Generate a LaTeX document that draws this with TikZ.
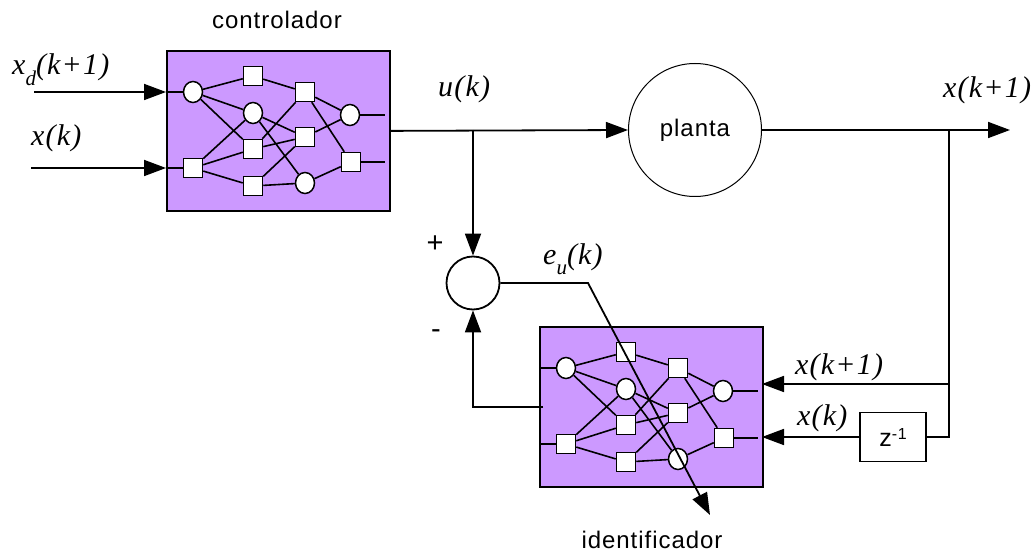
\documentclass[tikz,border=0pt]{standalone}
\usepackage{fontspec}
\setmainfont{Liberation Serif}
\setsansfont{Liberation Sans}
\newfontfamily\lblsans[LetterSpace=4]{Liberation Sans}
\newfontfamily\lblser[LetterSpace=4]{Liberation Serif}
\usetikzlibrary{arrows.meta,shapes.geometric}
\definecolor{netfill}{HTML}{CC99FF}
\tikzset{
 netbox/.style={draw, line width=1.8pt, fill=netfill, minimum width=223pt, minimum height=160pt, anchor=north west, inner sep=0pt},
 neur/.style={ellipse, draw, fill=white, line width=1.5pt, minimum width=19pt, minimum height=21pt, inner sep=0pt},
 sq/.style={rectangle, draw, fill=white, line width=1.5pt, minimum size=19pt, inner sep=0pt},
 wire/.style={line width=1.6pt},
 conn/.style={line width=1.8pt},
 arr/.style={conn, -{Triangle[length=22pt,width=16pt]}},
 ital/.style={font=\lblser\itshape\fontsize{30}{30}\selectfont, inner sep=0pt},
 sanslbl/.style={font=\lblsans\fontsize{24}{24}\selectfont, inner sep=0pt},
}
\newcommand\mknet[3]{%
 \node[netbox] (#1box) at (#2,#3) {};
 \begin{scope}[shift={(#2,#3)}]
  \node[neur] (#1i1) at (27,42) {};
  \node[sq] (#1i2) at (27,118) {};
  \node[sq] (#1a1) at (87,26) {};
  \node[neur] (#1a2) at (87,63) {};
  \node[sq] (#1a3) at (87,99) {};
  \node[sq] (#1a4) at (87,136) {};
  \node[sq] (#1b1) at (139,42) {};
  \node[sq] (#1b2) at (139,87) {};
  \node[neur] (#1b3) at (139,133) {};
  \node[neur] (#1c1) at (184,65) {};
  \node[sq] (#1c2) at (185,112) {};
  \coordinate (#1oe) at (219,0);
  \coordinate (#1fb) at (4,81);
  \coordinate (#1r1) at (223,58);
  \coordinate (#1r2) at (223,111);
 \end{scope}
 \draw[wire] (#1i1) -- (#1a1) (#1i1) -- (#1a2) (#1i1) -- (#1a3)
   (#1i2) -- (#1a2) (#1i2) -- (#1a3) (#1i2) -- (#1a4)
   (#1a1) -- (#1b1) (#1a2) -- (#1b2) (#1a2) -- (#1b3)
   (#1a3) -- (#1b1) (#1a3) -- (#1b2) (#1a4) -- (#1b2) (#1a4) -- (#1b3)
   (#1b1) -- (#1c1) (#1b1) -- (#1c2) (#1b2) -- (#1c1) (#1b3) -- (#1c2);
 \draw[wire] (#1box.west |- #1i1) -- (#1i1);
 \draw[wire] (#1box.west |- #1i2) -- (#1i2);
 \draw[wire] (#1c1) -- (#1c1 -| #1oe);
 \draw[wire] (#1c2) -- (#1c2 -| #1oe);
}
\begin{document}
\begin{tikzpicture}[x=1pt,y=-1pt]
\useasboundingbox (0,0) rectangle (1034,553);
% controller and identifier networks
\mknet{c}{166}{50}
\mknet{i}{539}{326}
% plant, sum, delay
\node[circle, draw, line width=1pt, minimum size=133pt, inner sep=0pt, font=\lblsans\fontsize{24}{24}\selectfont] (planta) at (695,130) {planta};
\node[circle, draw, line width=1.8pt, minimum size=53pt, inner sep=0pt] (sum) at (473,283) {};
\node[rectangle, draw, line width=1.5pt, minimum width=66pt, minimum height=49pt, inner sep=0pt, font=\lblsans\fontsize{25}{25}\selectfont] (z) at (893,437) {z\raisebox{7pt}{\fontsize{16}{16}\selectfont -1}};
% coordinates
\coordinate (xd0) at (34,92);
\coordinate (xk0) at (31,168);
\coordinate (j1) at (473,130);
\coordinate (j2) at (949,130);
\coordinate (j3) at (949,384);
\coordinate (xo) at (1010,130);
\coordinate (eb) at (588,283);
\coordinate (ee) at (710,515);
% connectors
\draw[arr] (xd0) -- (xd0 -| cbox.west);
\draw[arr] (xk0) -- (xk0 -| cbox.west);
\draw[arr] (cbox.east) -- (planta.west);
\draw[arr] (j1) -- (sum.north);
\draw[arr] (planta.east) -- (xo);
\draw[conn] (j2) |- (z.east);
\draw[arr] (j3) -- (ir1);
\draw[arr] (z.west) -- (ir2);
\draw[arr] (ifb) -| (sum.south);
\draw[arr] (sum.east) -- (eb) -- (ee);
% labels
\node[sanslbl, anchor=base] (tctl) at (277,29) {controlador};
\node[sanslbl, anchor=base] (tidf) at (652,548) {identificador};
\node[sanslbl, font=\lblsans\fontsize{29}{29}\selectfont] (tplus) at (435,244) {+};
\node[sanslbl, font=\lblsans\fontsize{29}{29}\selectfont] (tminus) at (436,334) {-};
\node[ital, anchor=base west] (lxd) at (12,75) {x\raisebox{-11pt}{\fontsize{21}{21}\selectfont d}(k+1)};
\node[ital, anchor=base west] (lxk) at (31,146) {x(k)};
\node[ital, anchor=base west] (lu) at (438,97) {u(k)};
\node[ital, anchor=base west] (lxo) at (943,98) {x(k+1)};
\node[ital, anchor=base west] (le) at (543,265) {e\raisebox{-10pt}{\fontsize{21}{21}\selectfont u}(k)};
\node[ital, anchor=base west] (lx1) at (795,375) {x(k+1)};
\node[ital, anchor=base west] (lx2) at (797,425) {x(k)};
\end{tikzpicture}
\end{document}
